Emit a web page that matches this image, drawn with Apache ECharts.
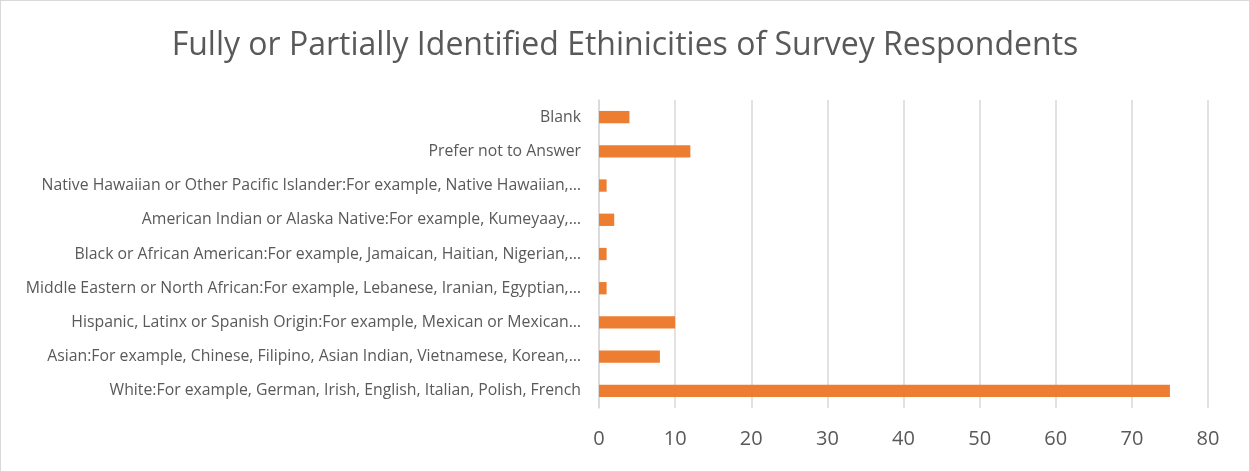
<!DOCTYPE html>
<html>
<head>
<meta charset="utf-8">
<script src="https://cdn.jsdelivr.net/npm/echarts@6/dist/echarts.min.js"></script>
<style>
html,body{margin:0;padding:0;background:#fff;}
#c{width:1250px;height:472px;box-sizing:border-box;border:1px solid #d9d9d9;}
</style>
</head>
<body>
<div id="c"></div>
<script>
const categories = [
  "White:For example, German, Irish, English, Italian, Polish, French",
  "Asian:For example, Chinese, Filipino, Asian Indian, Vietnamese, Korean,…",
  "Hispanic, Latinx or Spanish Origin:For example, Mexican or Mexican…",
  "Middle Eastern or North African:For example, Lebanese, Iranian, Egyptian,…",
  "Black or African American:For example, Jamaican, Haitian, Nigerian,…",
  "American Indian or Alaska Native:For example, Kumeyaay,…",
  "Native Hawaiian or Other Pacific Islander:For example, Native Hawaiian,…",
  "Prefer not to Answer",
  "Blank"
];
const values = [75, 8, 10, 1, 1, 2, 1, 12, 4];
const titleText = "Fully or Partially Identified Ethinicities of Survey Respondents";

const chart = echarts.init(document.getElementById('c'), null, {renderer: 'canvas'});
chart.setOption({
  animation: false,
  title: {
    text: titleText,
    left: 'center',
    top: 24,
    textStyle: {fontFamily: 'Open Sans', fontSize: 32, fontWeight: 'normal', color: '#595959'}
  },
  grid: {left: 598, right: 41, top: 99, bottom: 63, containLabel: false},
  xAxis: {
    type: 'value', min: 0, max: 80, interval: 10,
    axisLine: {show: false}, axisTick: {show: false},
    splitLine: {lineStyle: {color: '#d9d9d9', width: 1.5}},
    axisLabel: {fontFamily: 'Open Sans', fontSize: 20, color: '#595959', margin: 21}
  },
  yAxis: {
    type: 'category', data: categories,
    axisLine: {show: true, lineStyle: {color: '#d9d9d9', width: 1.5}},
    axisTick: {show: false},
    axisLabel: {fontFamily: 'Open Sans', fontSize: 15.8, color: '#595959', margin: 18}
  },
  series: [{
    type: 'bar', data: values, barWidth: '36%',
    itemStyle: {color: '#ed7d31'}
  }]
});
</script>
</body>
</html>
